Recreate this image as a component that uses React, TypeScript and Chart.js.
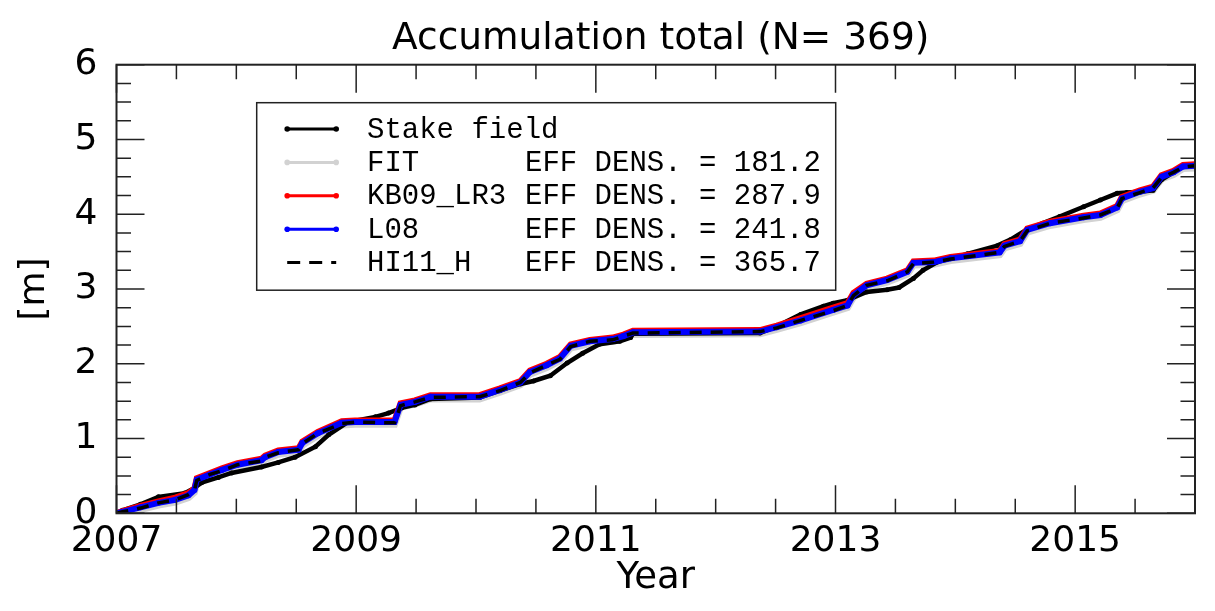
import React, { useEffect, useRef } from "react";
import { Chart, registerables } from "chart.js";
Chart.register(...registerables);

const TITLE = "Accumulation total (N= 369)";
const X_TITLE = "Year";
const Y_TITLE = "[m]";

const X_MAJOR = [2007, 2009, 2011, 2013, 2015];
const X_MINOR = [2007.5, 2008, 2008.5, 2009.5, 2010, 2010.5, 2011.5, 2012, 2012.5, 2013.5, 2014, 2014.5, 2015.5];
const Y_MAJOR = [0, 1, 2, 3, 4, 5, 6];
const Y_MINOR = [0.25, 0.5, 0.75, 1.25, 1.5, 1.75, 2.25, 2.5, 2.75, 3.25, 3.5, 3.75, 4.25, 4.5, 4.75, 5.25, 5.5, 5.75];

const SERIES_NAMES = ["Stake field", "FIT", "KB09_LR3", "L08", "HI11_H"];
const EFF_DENS = [null, 181.2, 287.9, 241.8, 365.7];

const stakeYears = [2007.0, 2007.05, 2007.2, 2007.35, 2007.57, 2007.65, 2007.71, 2007.85, 2007.96, 2008.21, 2008.35, 2008.49, 2008.66, 2008.77, 2008.93, 2009.16, 2009.27, 2009.38, 2009.49, 2009.62, 2010.03, 2010.2, 2010.37, 2010.48, 2010.62, 2010.76, 2010.89, 2011.03, 2011.2, 2011.29, 2011.31, 2012.37, 2012.51, 2012.71, 2012.9, 2012.98, 2013.1, 2013.26, 2013.43, 2013.53, 2013.65, 2013.73, 2013.85, 2014.1, 2014.35, 2014.46, 2014.6, 2014.73, 2014.87, 2015.07, 2015.21, 2015.35, 2015.43, 2015.54, 2015.65, 2015.72, 2015.82, 2015.9, 2016.0];
const stakeValues = [0, 0.04, 0.12, 0.22, 0.27, 0.34, 0.41, 0.48, 0.54, 0.62, 0.68, 0.75, 0.89, 1.05, 1.22, 1.29, 1.34, 1.41, 1.45, 1.53, 1.55, 1.64, 1.73, 1.77, 1.84, 2.01, 2.14, 2.26, 2.30, 2.35, 2.40, 2.41, 2.50, 2.66, 2.77, 2.81, 2.85, 2.96, 2.99, 3.02, 3.14, 3.25, 3.36, 3.47, 3.58, 3.66, 3.80, 3.88, 3.97, 4.10, 4.19, 4.28, 4.29, 4.30, 4.32, 4.46, 4.56, 4.64, 4.65];

const modelYears = [2007.0, 2007.05, 2007.2, 2007.35, 2007.49, 2007.6, 2007.65, 2007.67, 2007.78, 2007.88, 2008.01, 2008.21, 2008.24, 2008.35, 2008.52, 2008.55, 2008.68, 2008.88, 2008.99, 2009.32, 2009.37, 2009.49, 2009.62, 2010.03, 2010.2, 2010.37, 2010.45, 2010.59, 2010.7, 2010.79, 2010.95, 2011.14, 2011.23, 2011.31, 2012.37, 2012.51, 2012.71, 2012.98, 2013.1, 2013.15, 2013.26, 2013.43, 2013.6, 2013.65, 2013.82, 2013.96, 2014.37, 2014.41, 2014.54, 2014.6, 2014.79, 2015.07, 2015.21, 2015.35, 2015.39, 2015.54, 2015.65, 2015.72, 2015.82, 2015.9, 2016.0];
const fitValues = [0, 0.00, 0.05, 0.11, 0.15, 0.21, 0.28, 0.42, 0.49, 0.55, 0.62, 0.68, 0.72, 0.79, 0.82, 0.91, 1.04, 1.18, 1.19, 1.19, 1.42, 1.46, 1.53, 1.53, 1.62, 1.72, 1.86, 1.95, 2.04, 2.21, 2.27, 2.30, 2.34, 2.39, 2.40, 2.46, 2.55, 2.69, 2.75, 2.89, 3.02, 3.09, 3.20, 3.32, 3.33, 3.38, 3.46, 3.55, 3.61, 3.76, 3.85, 3.93, 3.96, 4.06, 4.18, 4.27, 4.32, 4.47, 4.53, 4.61, 4.62];
const kb09Values = [0, 0.03, 0.10, 0.16, 0.21, 0.27, 0.33, 0.47, 0.54, 0.60, 0.67, 0.73, 0.77, 0.84, 0.87, 0.96, 1.09, 1.23, 1.24, 1.24, 1.47, 1.51, 1.58, 1.58, 1.67, 1.77, 1.91, 2.00, 2.09, 2.26, 2.32, 2.35, 2.39, 2.44, 2.45, 2.51, 2.61, 2.75, 2.81, 2.95, 3.07, 3.14, 3.25, 3.37, 3.38, 3.43, 3.51, 3.60, 3.66, 3.81, 3.90, 3.98, 4.01, 4.11, 4.23, 4.32, 4.37, 4.52, 4.58, 4.66, 4.67];
const l08Values = [0, 0.02, 0.08, 0.14, 0.18, 0.24, 0.31, 0.45, 0.52, 0.58, 0.65, 0.71, 0.75, 0.82, 0.85, 0.94, 1.07, 1.21, 1.22, 1.22, 1.45, 1.49, 1.56, 1.56, 1.65, 1.75, 1.89, 1.98, 2.07, 2.24, 2.30, 2.33, 2.37, 2.42, 2.43, 2.49, 2.58, 2.72, 2.78, 2.92, 3.05, 3.12, 3.23, 3.35, 3.36, 3.41, 3.49, 3.58, 3.64, 3.79, 3.88, 3.96, 3.99, 4.09, 4.21, 4.30, 4.35, 4.50, 4.56, 4.64, 4.65];
const hi11Values = [0, 0.02, 0.07, 0.14, 0.18, 0.25, 0.30, 0.44, 0.52, 0.57, 0.65, 0.70, 0.75, 0.81, 0.85, 0.93, 1.07, 1.20, 1.22, 1.21, 1.44, 1.49, 1.55, 1.56, 1.64, 1.75, 1.88, 1.98, 2.06, 2.23, 2.30, 2.32, 2.37, 2.41, 2.43, 2.48, 2.58, 2.71, 2.78, 2.91, 3.05, 3.11, 3.23, 3.34, 3.36, 3.40, 3.49, 3.57, 3.64, 3.78, 3.88, 3.95, 3.99, 4.08, 4.21, 4.29, 4.35, 4.49, 4.56, 4.63, 4.65];

const COLORS = ["#000000", "#d2d2d2", "#ff0000", "#0000ff", "#000000"];

const toXY = (xs: number[], ys: number[]) => xs.map((x, i) => ({ x, y: ys[i] }));

const framePlugin = {
  id: "frame",
  afterDatasetsDraw(chart: any) {
    const { ctx, chartArea: a, scales } = chart;
    const x = scales.x;
    const y = scales.y;
    ctx.save();

    // title
    ctx.fillStyle = "#000";
    ctx.font = '37.5px "DejaVu Sans"';
    ctx.textAlign = "center";
    ctx.textBaseline = "alphabetic";
    ctx.fillText(TITLE, (a.left + a.right) / 2 + 5, 49);

    ctx.strokeStyle = "#222";
    ctx.lineWidth = 1.5;
    ctx.beginPath();
    const xt = (vals: number[], len: number) => {
      vals.forEach((v) => {
        const p = x.getPixelForValue(v);
        ctx.moveTo(p, a.bottom);
        ctx.lineTo(p, a.bottom - len);
        ctx.moveTo(p, a.top);
        ctx.lineTo(p, a.top + len);
      });
    };
    const yt = (vals: number[], len: number) => {
      vals.forEach((v) => {
        const p = y.getPixelForValue(v);
        ctx.moveTo(a.left, p);
        ctx.lineTo(a.left + len, p);
        ctx.moveTo(a.right, p);
        ctx.lineTo(a.right - len, p);
      });
    };
    xt(X_MAJOR, 28);
    xt(X_MINOR, 14.5);
    yt(Y_MAJOR, 28);
    yt(Y_MINOR, 14.5);
    ctx.stroke();
    ctx.lineWidth = 2;
    ctx.strokeRect(a.left, a.top, a.right - a.left, a.bottom - a.top);

    // legend box
    const bx = a.left + 140.2;
    const by = a.top + 38;
    const bw = 579;
    const bh = 187.5;
    ctx.fillStyle = "#fff";
    ctx.fillRect(bx, by, bw, bh);
    ctx.lineWidth = 1.5;
    ctx.strokeStyle = "#222";
    ctx.strokeRect(bx, by, bw, bh);
    ctx.font = '29px "Liberation Mono"';
    ctx.textBaseline = "middle";
    ctx.textAlign = "left";
    SERIES_NAMES.forEach((name, i) => {
      const ry = by + 26.3 + i * 33.4;
      const x0 = bx + 30.5;
      const x1 = bx + 79.5;
      ctx.strokeStyle = COLORS[i];
      ctx.fillStyle = COLORS[i];
      ctx.lineWidth = 3;
      ctx.setLineDash(i === 4 ? [13, 9] : []);
      ctx.beginPath();
      ctx.moveTo(x0, ry);
      ctx.lineTo(x1, ry);
      ctx.stroke();
      ctx.setLineDash([]);
      if (i !== 4) {
        [x0, x1].forEach((px) => {
          ctx.beginPath();
          ctx.arc(px, ry, 2.8, 0, Math.PI * 2);
          ctx.fill();
        });
      }
      ctx.fillStyle = "#000";
      ctx.fillText(name, bx + 110.3, ry + 1);
      const d = EFF_DENS[i];
      if (d !== null) ctx.fillText("EFF DENS. = " + d.toFixed(1), bx + 268.3, ry + 1);
    });
    ctx.restore();
  },
};

export default function App() {
  const ref = useRef<HTMLCanvasElement | null>(null);
  useEffect(() => {
    document.body.style.margin = "0";
    const canvas = ref.current!;
    const chart = new Chart(canvas, {
      type: "line",
      data: {
        datasets: [
          {
            label: SERIES_NAMES[4],
            data: toXY(modelYears, hi11Values),
            borderColor: COLORS[4],
            borderWidth: 3.5,
            borderDash: [12, 9],
            pointRadius: 0,
            order: 0,
          },
          {
            label: SERIES_NAMES[3],
            data: toXY(modelYears, l08Values),
            borderColor: COLORS[3],
            backgroundColor: COLORS[3],
            borderWidth: 6,
            pointRadius: 3,
            pointBorderWidth: 0,
            order: 1,
          },
          {
            label: SERIES_NAMES[2],
            data: toXY(modelYears, kb09Values),
            borderColor: COLORS[2],
            borderWidth: 6,
            pointRadius: 0,
            order: 2,
          },
          {
            label: SERIES_NAMES[0],
            data: toXY(stakeYears, stakeValues),
            borderColor: COLORS[0],
            backgroundColor: COLORS[0],
            borderWidth: 4.5,
            pointRadius: 2.5,
            pointBorderWidth: 0,
            order: 3,
          },
          {
            label: SERIES_NAMES[1],
            data: toXY(modelYears, fitValues),
            borderColor: COLORS[1],
            borderWidth: 7,
            pointRadius: 0,
            order: 4,
          },
        ],
      },
      options: {
        responsive: false,
        animation: false,
        layout: { padding: { top: 64.7, right: 20, bottom: 0, left: 0 } },
        plugins: {
          legend: { display: false },
          tooltip: { enabled: false },
          title: { display: false },
        },
        elements: { line: { tension: 0 } },
        scales: {
          x: {
            type: "linear",
            min: 2007,
            max: 2016,
            grid: { display: false, drawTicks: false },
            border: { display: false },
            afterBuildTicks: (s: any) => {
              s.ticks = X_MAJOR.map((v) => ({ value: v }));
            },
            afterFit: (s: any) => {
              s.height = 97.7;
            },
            ticks: {
              autoSkip: false,
              maxRotation: 0,
              padding: 7,
              color: "#000",
              font: { family: "DejaVu Sans", size: 36 },
              callback: (v: any) => String(v),
            },
            title: {
              display: true,
              text: X_TITLE,
              color: "#000",
              font: { family: "DejaVu Sans", size: 37 },
              padding: { top: 0, bottom: 10 },
            },
          },
          y: {
            type: "linear",
            min: 0,
            max: 6,
            grid: { display: false, drawTicks: false },
            border: { display: false },
            afterBuildTicks: (s: any) => {
              s.ticks = Y_MAJOR.map((v) => ({ value: v }));
            },
            afterFit: (s: any) => {
              s.width = 116.5;
            },
            ticks: {
              padding: 19,
              color: "#000",
              font: { family: "DejaVu Sans", size: 36 },
              callback: (v: any) => String(v),
            },
            title: {
              display: true,
              text: Y_TITLE,
              color: "#000",
              font: { family: "DejaVu Sans", size: 36 },
              padding: { top: 13, bottom: 0 },
            },
          },
        },
      } as any,
      plugins: [framePlugin],
    });
    return () => chart.destroy();
  }, []);
  return (
    <div style={{ position: "absolute", left: 0, top: 0, width: 1215, height: 611 }}>
      <canvas ref={ref} width={1215} height={611} />
    </div>
  );
}
